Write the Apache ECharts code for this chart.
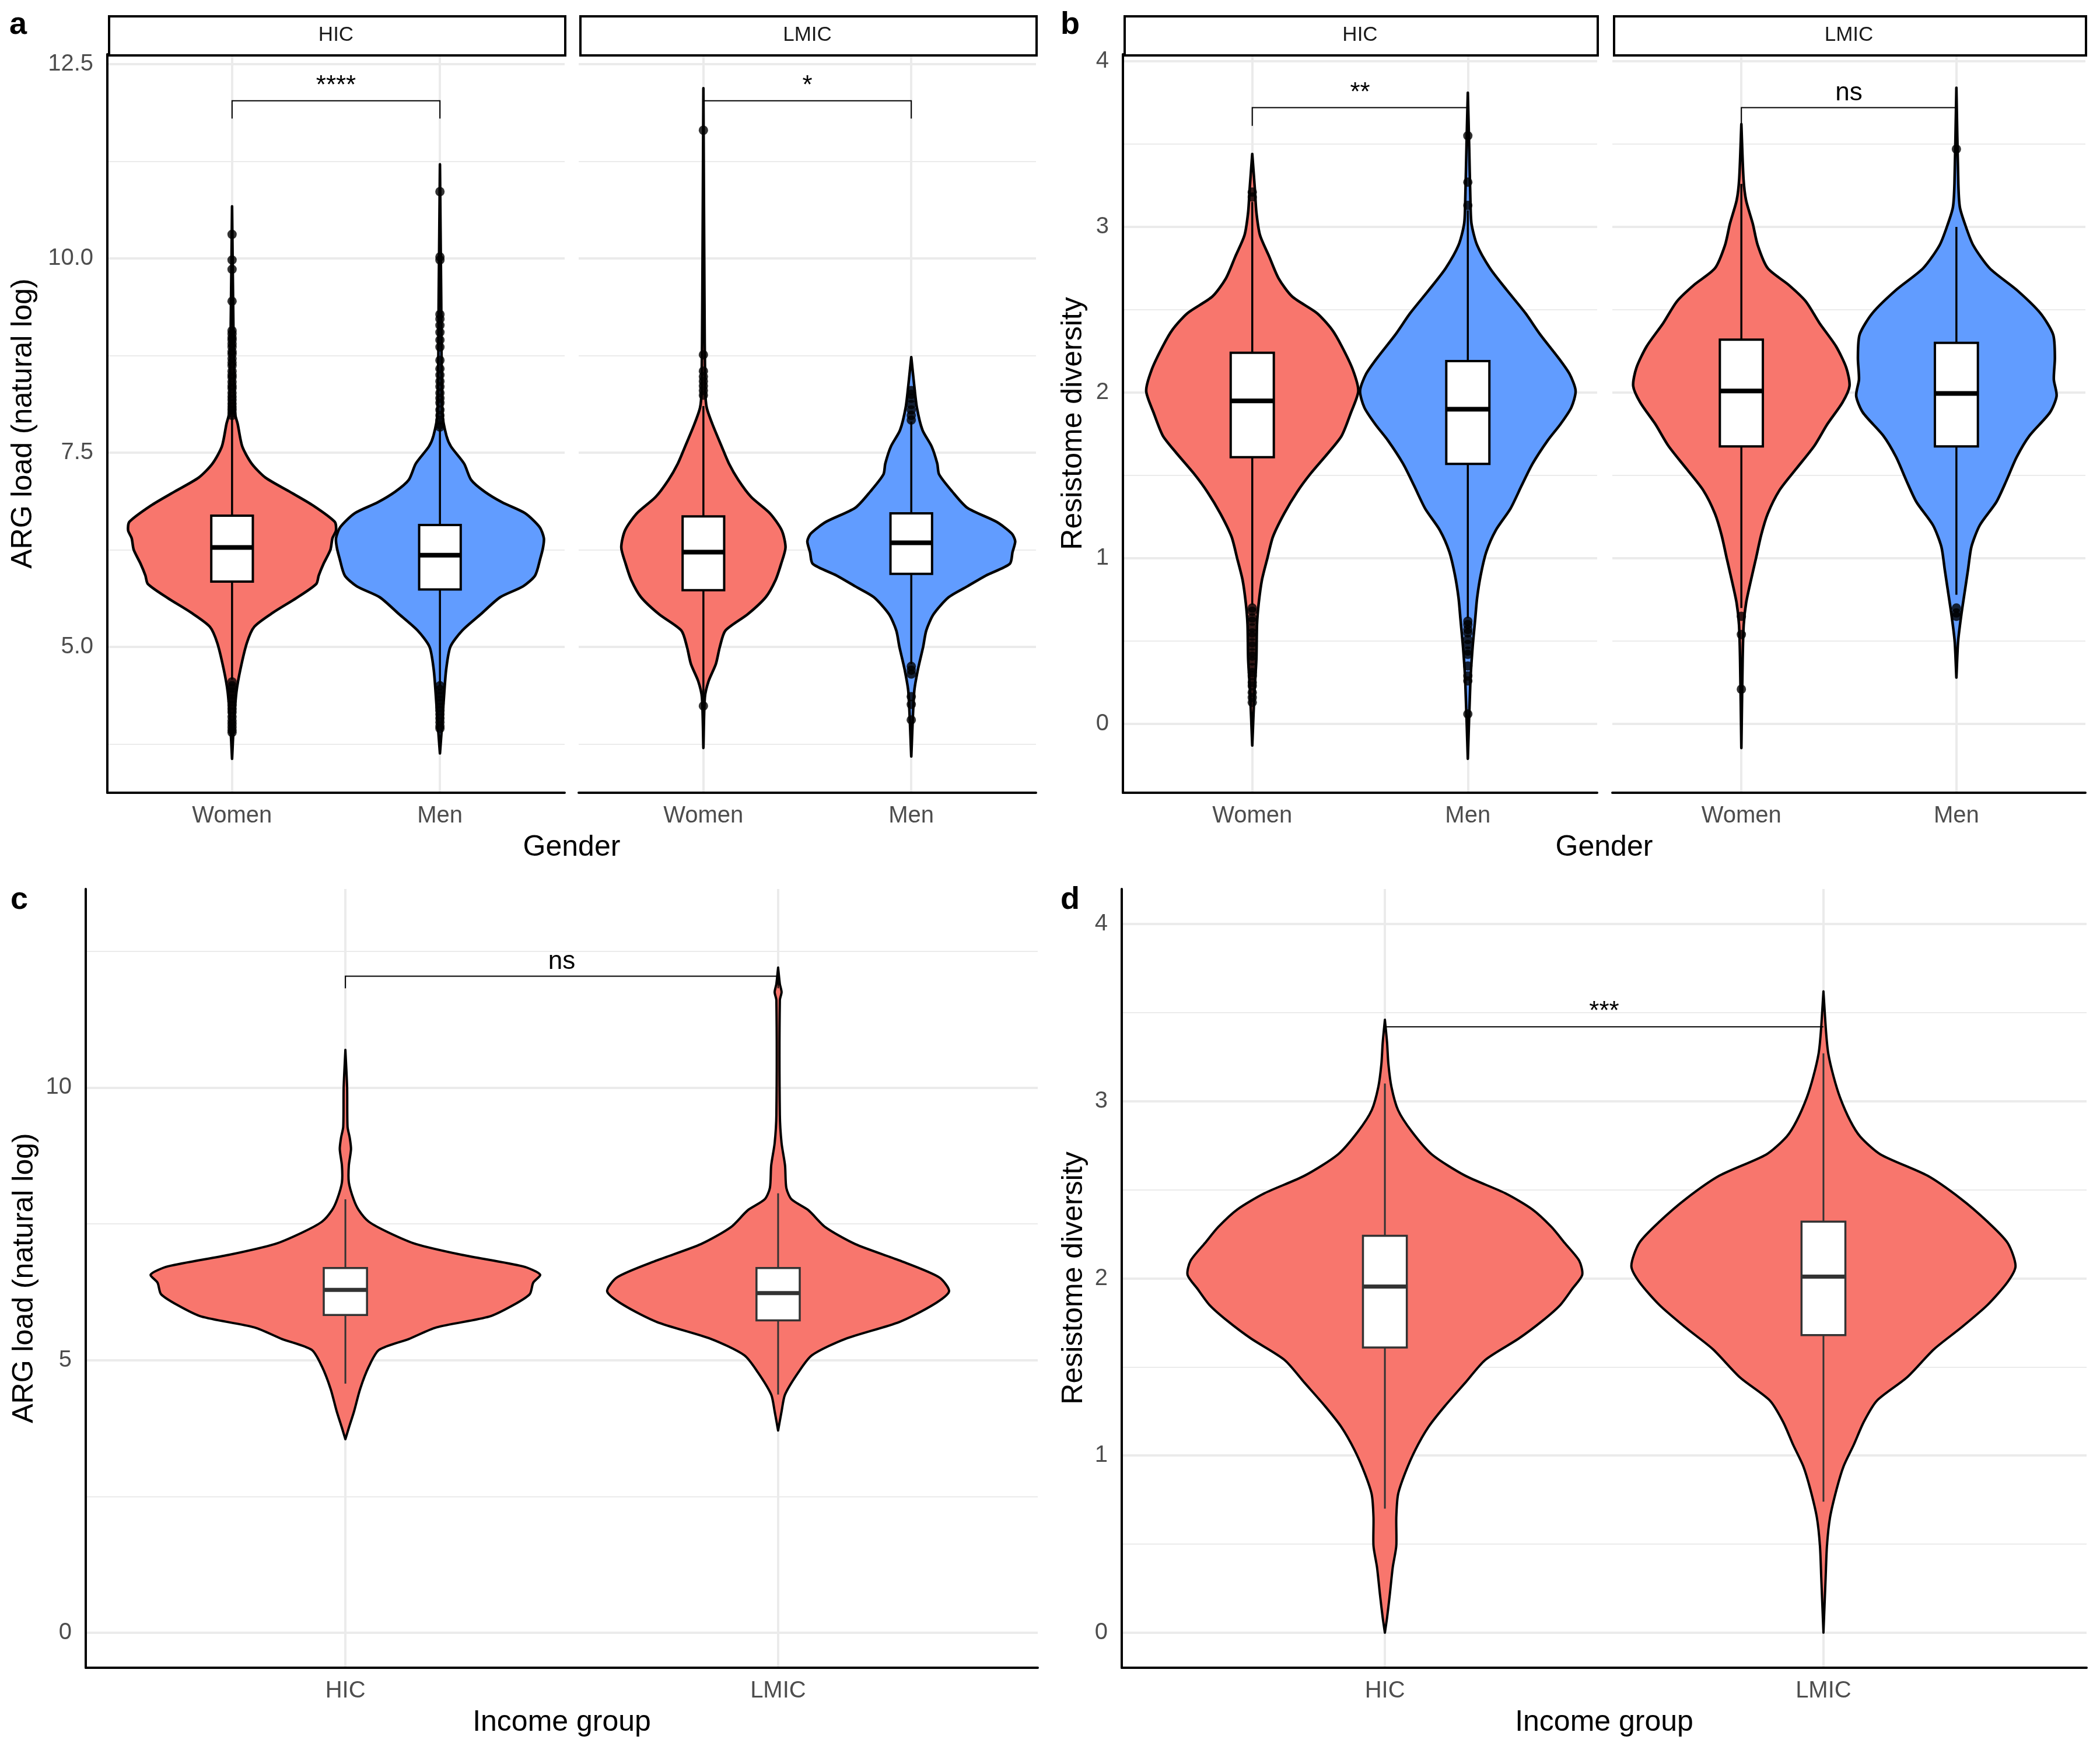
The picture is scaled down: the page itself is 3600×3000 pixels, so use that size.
<!DOCTYPE html>
<html><head><meta charset="utf-8">
<script src="https://cdn.jsdelivr.net/npm/echarts@6/dist/echarts.min.js"></script>
<style>html,body{margin:0;padding:0;background:#fff}#chart{width:3600px;height:3000px}</style>
</head><body><div id="chart"></div>
<script>
// ---------------- categories & ticks ----------------
const genderCategories = ['Women', 'Men'];
const incomeCategories = ['HIC', 'LMIC'];
const facetLabels = ['HIC', 'LMIC'];
const panelLetters = ['a', 'b', 'c', 'd'];
const argTitle = 'ARG load (natural log)';
const divTitle = 'Resistome diversity';
const genderTitle = 'Gender';
const incomeTitle = 'Income group';

const argGenderMajor = [5, 7.5, 10, 12.5];
const argGenderMinor = [3.75, 6.25, 8.75, 11.25];
const divMajor = [0, 1, 2, 3, 4];
const divMinor = [0.5, 1.5, 2.5, 3.5];
const argIncomeMajor = [0, 5, 10];
const argIncomeMinor = [2.5, 7.5, 12.5];

// ---------------- violin profiles [value, half-width] ----------------
const aHicWomenViolin = [[3.56,0],[3.99,0.008],[4.42,0.021],[4.71,0.04],[5.05,0.071],[5.26,0.107],[5.44,0.196],[5.63,0.31],[5.81,0.405],[5.92,0.417],[6.07,0.44],[6.25,0.473],[6.40,0.483],[6.5,0.5],[6.61,0.494],[6.82,0.39],[7.0,0.276],[7.18,0.16],[7.36,0.094],[7.58,0.049],[7.87,0.027],[8.01,0.014],[9.0,0.007],[10.67,0]];
const aHicMenViolin = [[3.63,0],[3.99,0.01],[4.42,0.021],[4.71,0.03],[5.0,0.05],[5.21,0.107],[5.42,0.196],[5.64,0.29],[5.78,0.40],[5.92,0.458],[6.14,0.483],[6.28,0.496],[6.40,0.50],[6.54,0.48],[6.72,0.41],[6.86,0.30],[7.0,0.214],[7.15,0.15],[7.36,0.116],[7.58,0.053],[7.72,0.031],[8.0,0.012],[9.5,0.006],[11.21,0]];
const aLmicWomenViolin = [[3.70,0],[4.35,0.007],[4.56,0.025],[4.78,0.06],[5.0,0.079],[5.21,0.106],[5.42,0.213],[5.64,0.30],[5.86,0.347],[6.07,0.374],[6.28,0.395],[6.50,0.377],[6.72,0.32],[6.93,0.23],[7.15,0.168],[7.36,0.123],[7.58,0.088],[7.87,0.043],[8.08,0.016],[8.3,0.009],[9.5,0.005],[12.19,0]];
const aLmicMenViolin = [[3.59,0],[4.42,0.014],[4.71,0.032],[5.0,0.057],[5.21,0.072],[5.42,0.107],[5.64,0.18],[5.78,0.27],[5.92,0.36],[6.07,0.474],[6.22,0.487],[6.36,0.50],[6.46,0.483],[6.61,0.41],[6.79,0.27],[7.0,0.197],[7.22,0.134],[7.36,0.125],[7.58,0.098],[7.79,0.054],[8.08,0.027],[8.37,0.014],[8.73,0]];
const bHicWomenViolin = [[-0.13,0],[0.19,0.01],[0.39,0.019],[0.60,0.022],[0.73,0.03],[0.87,0.045],[1.0,0.07],[1.13,0.096],[1.27,0.148],[1.40,0.208],[1.51,0.27],[1.64,0.355],[1.74,0.415],[1.88,0.458],[2.01,0.492],[2.14,0.466],[2.28,0.415],[2.38,0.37],[2.48,0.30],[2.58,0.185],[2.69,0.122],[2.82,0.079],[2.95,0.036],[3.09,0.019],[3.23,0.012],[3.44,0]];
const bHicMenViolin = [[-0.21,0],[0.26,0.012],[0.46,0.022],[0.63,0.034],[0.76,0.043],[0.90,0.06],[1.04,0.086],[1.17,0.13],[1.30,0.198],[1.44,0.25],[1.57,0.30],[1.71,0.37],[1.81,0.43],[1.91,0.48],[2.01,0.50],[2.11,0.473],[2.21,0.42],[2.35,0.336],[2.48,0.267],[2.62,0.18],[2.75,0.103],[2.89,0.043],[3.02,0.017],[3.16,0.012],[3.5,0.006],[3.81,0]];
const bLmicWomenViolin = [[-0.145,0],[0.39,0.006],[0.60,0.011],[0.73,0.022],[0.87,0.045],[1.0,0.068],[1.14,0.092],[1.27,0.123],[1.41,0.177],[1.54,0.255],[1.68,0.34],[1.81,0.40],[1.94,0.47],[2.04,0.503],[2.15,0.488],[2.28,0.44],[2.42,0.363],[2.55,0.30],[2.65,0.22],[2.75,0.123],[2.89,0.076],[3.02,0.053],[3.16,0.022],[3.29,0.01],[3.62,0]];
const bLmicMenViolin = [[0.28,0],[0.50,0.008],[0.66,0.023],[0.80,0.039],[0.93,0.054],[1.07,0.07],[1.20,0.109],[1.34,0.186],[1.47,0.233],[1.61,0.28],[1.74,0.34],[1.88,0.435],[1.98,0.466],[2.08,0.453],[2.21,0.458],[2.35,0.45],[2.48,0.39],[2.62,0.28],[2.75,0.155],[2.89,0.078],[3.02,0.039],[3.12,0.016],[3.26,0.009],[3.84,0]];
const cHicViolin = [[3.55,0],[3.76,0.008],[4.06,0.02],[4.47,0.034],[4.88,0.054],[5.19,0.078],[5.39,0.147],[5.60,0.21],[5.80,0.333],[6.01,0.388],[6.21,0.426],[6.42,0.434],[6.57,0.45],[6.72,0.41],[6.93,0.27],[7.13,0.163],[7.34,0.10],[7.54,0.054],[7.75,0.031],[7.95,0.019],[8.26,0.008],[8.57,0.008],[8.87,0.013],[9.08,0.01],[9.28,0.005],[10.0,0.004],[10.69,0]];
const cLmicViolin = [[3.71,0],[4.06,0.008],[4.37,0.016],[4.78,0.047],[5.09,0.078],[5.39,0.155],[5.70,0.28],[6.01,0.357],[6.26,0.395],[6.52,0.372],[6.83,0.28],[7.13,0.178],[7.44,0.109],[7.75,0.07],[7.95,0.031],[8.16,0.019],[8.57,0.016],[8.98,0.008],[9.5,0.004],[11.6,0.004],[11.75,0.008],[11.9,0.004],[12.20,0]];
const dHicViolin = [[0,0],[0.085,0.005],[0.21,0.011],[0.37,0.018],[0.49,0.026],[0.65,0.026],[0.78,0.03],[0.90,0.046],[1.03,0.069],[1.16,0.099],[1.28,0.137],[1.41,0.183],[1.54,0.229],[1.66,0.305],[1.76,0.359],[1.85,0.40],[1.94,0.427],[2.02,0.45],[2.10,0.443],[2.20,0.41],[2.29,0.38],[2.39,0.336],[2.48,0.275],[2.58,0.183],[2.70,0.107],[2.83,0.061],[2.95,0.03],[3.08,0.015],[3.21,0.008],[3.33,0.005],[3.46,0]];
const dLmicViolin = [[0,0],[0.31,0.005],[0.49,0.008],[0.65,0.015],[0.81,0.03],[0.94,0.046],[1.06,0.069],[1.19,0.092],[1.31,0.122],[1.44,0.19],[1.60,0.252],[1.72,0.313],[1.85,0.374],[1.98,0.42],[2.07,0.438],[2.20,0.42],[2.32,0.374],[2.45,0.313],[2.58,0.237],[2.70,0.13],[2.80,0.084],[2.89,0.061],[3.02,0.038],[3.14,0.023],[3.27,0.011],[3.39,0.006],[3.62,0]];

// ---------------- box stats [lowWhisker, Q1, median, Q3, highWhisker] ----------------
const aHicWomenBox = [4.58, 5.84, 6.28, 6.69, 7.95];
const aHicMenBox = [4.5, 5.74, 6.18, 6.57, 7.8];
const aLmicWomenBox = [4.3, 5.73, 6.22, 6.68, 8.1];
const aLmicMenBox = [4.78, 5.94, 6.34, 6.72, 7.9];
const bHicWomenBox = [0.72, 1.61, 1.95, 2.24, 3.15];
const bHicMenBox = [0.64, 1.57, 1.90, 2.19, 3.1];
const bLmicWomenBox = [0.7, 1.675, 2.01, 2.32, 3.26];
const bLmicMenBox = [0.78, 1.675, 1.995, 2.30, 3.0];
const cHicBox = [4.57, 5.83, 6.29, 6.69, 7.95];
const cLmicBox = [4.37, 5.73, 6.23, 6.69, 8.06];
const dHicBox = [0.70, 1.61, 1.954, 2.24, 3.10];
const dLmicBox = [0.74, 1.68, 2.01, 2.32, 3.27];

// ---------------- outliers ----------------
const aHicWomenOut = [10.31, 9.98, 9.86, 9.45, 9.07, 9.03, 8.98, 8.95, 8.9, 8.86, 8.8, 8.77, 8.71, 8.66, 8.62, 8.55, 8.5, 8.47, 8.41, 8.36, 8.33, 8.27, 8.22, 8.18, 8.13, 8.09, 8.05, 8.01, 7.98,
  4.55, 4.5, 4.47, 4.42, 4.38, 4.33, 4.3, 4.25, 4.2, 4.16, 4.1, 4.05, 4.01, 3.97, 3.93, 3.9];
const aHicMenOut = [10.86, 10.02, 9.98, 9.28, 9.22, 9.14, 9.05, 8.95, 8.86, 8.69, 8.58, 8.5, 8.42, 8.35, 8.27, 8.2, 8.14, 8.05, 7.98, 7.92, 7.86, 7.83,
  4.5, 4.45, 4.4, 4.36, 4.31, 4.27, 4.22, 4.18, 4.13, 4.08, 4.03, 3.98, 3.95];
const aLmicWomenOut = [11.65, 8.76, 8.55, 8.48, 8.42, 8.36, 8.3, 8.24, 4.24];
const aLmicMenOut = [8.3, 8.25, 8.2, 8.12, 8.05, 7.98, 7.92, 4.75, 4.7, 4.65, 4.36, 4.26, 4.06];
const bHicWomenOut = [3.21, 3.18, 0.70, 0.68, 0.64, 0.62, 0.58, 0.55, 0.53, 0.49, 0.47, 0.43, 0.41, 0.38, 0.34, 0.31, 0.29, 0.25, 0.23, 0.19, 0.16, 0.13];
const bHicMenOut = [3.55, 3.27, 3.13, 0.62, 0.6, 0.57, 0.55, 0.51, 0.48, 0.44, 0.42, 0.35, 0.29, 0.26, 0.06];
const bLmicWomenOut = [0.65, 0.54, 0.21];
const bLmicMenOut = [3.47, 0.70, 0.67, 0.65];

// ---------------- significance brackets [x1, x2, lineY, tipY, label] ----------------
const aHicSig = [1, 2, 12.03, 11.80, '****'];
const aLmicSig = [1, 2, 12.03, 11.80, '*'];
const bHicSig = [1, 2, 3.72, 3.61, '**'];
const bLmicSig = [1, 2, 3.72, 3.61, 'ns'];
const cSig = [1, 2, 12.04, 11.82, 'ns'];
const dSig = [1, 2, 3.42, 3.42, '***'];

// ---------------- layout / style ----------------
const RED = '#F8766D', BLUE = '#619CFF';
const FONT = 'Liberation Sans, Arial, Helvetica, sans-serif';
const GRIDC = '#EBEBEB';

const panels = [
  { left: 184, top: 93, width: 784, height: 1266, yMin: 3.123, yMax: 12.628, major: argGenderMajor, minor: argGenderMinor, showY: true, cats: genderCategories, fmt: v => v.toFixed(1) },
  { left: 992, top: 93, width: 784, height: 1266, yMin: 3.123, yMax: 12.628, major: argGenderMajor, minor: argGenderMinor, showY: false, cats: genderCategories, fmt: v => v.toFixed(1) },
  { left: 1925, top: 93, width: 813, height: 1266, yMin: -0.415, yMax: 4.042, major: divMajor, minor: divMinor, showY: true, cats: genderCategories, fmt: v => String(v) },
  { left: 2764, top: 93, width: 811, height: 1266, yMin: -0.415, yMax: 4.042, major: divMajor, minor: divMinor, showY: false, cats: genderCategories, fmt: v => String(v) },
  { left: 147, top: 1524, width: 1632, height: 1335, yMin: -0.64, yMax: 13.64, major: argIncomeMajor, minor: argIncomeMinor, showY: true, cats: incomeCategories, fmt: v => String(v) },
  { left: 1923, top: 1524, width: 1654, height: 1335, yMin: -0.198, yMax: 4.198, major: divMajor, minor: divMinor, showY: true, cats: incomeCategories, fmt: v => String(v) }
];

const grids = [], xAxes = [], yAxes = [];
panels.forEach((p, i) => {
  grids.push({ left: p.left, top: p.top, width: p.width, height: p.height, containLabel: false });
  xAxes.push({
    type: 'value', gridIndex: i, min: 0.4, max: 2.6, position: 'bottom',
    axisLine: { show: true, onZero: false, lineStyle: { color: '#000', width: 4 } },
    axisTick: { show: false, customValues: [1, 2] },
    axisLabel: { show: true, customValues: [1, 2], formatter: v => p.cats[Math.round(v) - 1], color: '#4D4D4D', fontSize: 40, fontFamily: FONT, margin: 20, lineHeight: 40 },
    splitLine: { show: true, lineStyle: { color: GRIDC, width: 4 } }
  });
  yAxes.push({
    type: 'value', gridIndex: i, min: p.yMin, max: p.yMax, position: 'left',
    axisLine: { show: p.showY, onZero: false, lineStyle: { color: '#000', width: 4 } },
    axisTick: { show: false, customValues: p.major },
    axisLabel: { show: p.showY, customValues: p.major, formatter: p.fmt, color: '#4D4D4D', fontSize: 40, fontFamily: FONT, margin: 24 },
    splitLine: { show: true, lineStyle: { color: GRIDC, width: 4 } }
  });
  yAxes.push({
    type: 'value', gridIndex: i, min: p.yMin, max: p.yMax, position: 'left',
    axisLine: { show: false, onZero: false }, axisLabel: { show: false },
    axisTick: { show: false, customValues: p.minor },
    splitLine: { show: true, lineStyle: { color: GRIDC, width: 2 } }
  });
});

const series = [];
function violin(gi, xc, profile, color, lw) {
  const mid = profile[Math.floor(profile.length / 2)][0];
  series.push({
    type: 'custom', xAxisIndex: gi, yAxisIndex: 2 * gi, z: 2, silent: true,
    data: [[xc, mid]],
    renderItem: (params, api) => {
      const right = profile.map(r => api.coord([xc + r[1], r[0]]));
      const left = profile.slice().reverse().map(r => api.coord([xc - r[1], r[0]]));
      return { type: 'polygon', shape: { points: right.concat(left), smooth: 0.25 },
        style: { fill: color, stroke: '#000', lineWidth: lw, lineJoin: 'round' } };
    }
  });
}
function box(gi, xc, stats, halfW, color, boxLw, medLw, whiskLw) {
  series.push({
    type: 'custom', xAxisIndex: gi, yAxisIndex: 2 * gi, z: 3, silent: true,
    data: [[xc].concat(stats)],
    encode: { x: 0, y: [1, 2, 3, 4, 5] },
    renderItem: (params, api) => {
      const x = api.value(0);
      const lo = api.coord([x, api.value(1)]), q1 = api.coord([x - halfW, api.value(2)]);
      const med = api.value(3), q3 = api.coord([x + halfW, api.value(4)]), hi = api.coord([x, api.value(5)]);
      const mL = api.coord([x - halfW, med]), mR = api.coord([x + halfW, med]);
      const c = api.coord([x, api.value(2)]), c3 = api.coord([x, api.value(4)]);
      return { type: 'group', children: [
        { type: 'line', shape: { x1: lo[0], y1: lo[1], x2: c[0], y2: c[1] }, style: { stroke: color, lineWidth: whiskLw } },
        { type: 'line', shape: { x1: hi[0], y1: hi[1], x2: c3[0], y2: c3[1] }, style: { stroke: color, lineWidth: whiskLw } },
        { type: 'rect', shape: { x: q1[0], y: q3[1], width: q3[0] - q1[0], height: q1[1] - q3[1] }, style: { fill: '#fff', stroke: color, lineWidth: boxLw } },
        { type: 'line', shape: { x1: mL[0], y1: mL[1], x2: mR[0], y2: mR[1] }, style: { stroke: color, lineWidth: medLw } }
      ] };
    }
  });
}
function outliers(gi, xc, vals) {
  series.push({
    type: 'scatter', xAxisIndex: gi, yAxisIndex: 2 * gi, z: 4, silent: true,
    symbol: 'circle', symbolSize: 16, itemStyle: { color: '#000' },
    data: vals.map(v => [xc, v])
  });
}
function bracket(gi, sig) {
  series.push({
    type: 'custom', xAxisIndex: gi, yAxisIndex: 2 * gi, z: 5, silent: true,
    data: [sig],
    renderItem: (params, api) => {
      const x1 = api.value(0), x2 = api.value(1), y = api.value(2), tip = api.value(3);
      const a = api.coord([x1, tip]), b = api.coord([x1, y]), c = api.coord([x2, y]), d = api.coord([x2, tip]);
      return { type: 'group', children: [
        { type: 'polyline', shape: { points: [a, b, c, d] }, style: { stroke: '#000', lineWidth: 2, fill: null } },
        { type: 'text', x: (b[0] + c[0]) / 2, y: b[1] - 25,
          style: { text: sig[4], fontSize: 44, fontFamily: FONT, fill: '#000', align: 'center', verticalAlign: 'middle' } }
      ] };
    }
  });
}

// panel a
violin(0, 1, aHicWomenViolin, RED, 4.5); violin(0, 2, aHicMenViolin, BLUE, 4.5);
violin(1, 1, aLmicWomenViolin, RED, 4.5); violin(1, 2, aLmicMenViolin, BLUE, 4.5);
box(0, 1, aHicWomenBox, 0.1, '#000', 4, 8, 3.5); box(0, 2, aHicMenBox, 0.1, '#000', 4, 8, 3.5);
box(1, 1, aLmicWomenBox, 0.1, '#000', 4, 8, 3.5); box(1, 2, aLmicMenBox, 0.1, '#000', 4, 8, 3.5);
outliers(0, 1, aHicWomenOut); outliers(0, 2, aHicMenOut);
outliers(1, 1, aLmicWomenOut); outliers(1, 2, aLmicMenOut);
bracket(0, aHicSig); bracket(1, aLmicSig);
// panel b
violin(2, 1, bHicWomenViolin, RED, 4.5); violin(2, 2, bHicMenViolin, BLUE, 4.5);
violin(3, 1, bLmicWomenViolin, RED, 4.5); violin(3, 2, bLmicMenViolin, BLUE, 4.5);
box(2, 1, bHicWomenBox, 0.1, '#000', 4, 8, 3.5); box(2, 2, bHicMenBox, 0.1, '#000', 4, 8, 3.5);
box(3, 1, bLmicWomenBox, 0.1, '#000', 4, 8, 3.5); box(3, 2, bLmicMenBox, 0.1, '#000', 4, 8, 3.5);
outliers(2, 1, bHicWomenOut); outliers(2, 2, bHicMenOut);
outliers(3, 1, bLmicWomenOut); outliers(3, 2, bLmicMenOut);
bracket(2, bHicSig); bracket(3, bLmicSig);
// panel c
violin(4, 1, cHicViolin, RED, 4); violin(4, 2, cLmicViolin, RED, 4);
box(4, 1, cHicBox, 0.05, '#333333', 3.5, 7, 3); box(4, 2, cLmicBox, 0.05, '#333333', 3.5, 7, 3);
bracket(4, cSig);
// panel d
violin(5, 1, dHicViolin, RED, 4); violin(5, 2, dLmicViolin, RED, 4);
box(5, 1, dHicBox, 0.05, '#333333', 3.5, 7, 3); box(5, 2, dLmicBox, 0.05, '#333333', 3.5, 7, 3);
bracket(5, dSig);

// ---------------- graphics: strips, titles, letters ----------------
const graphic = [];
[0, 1, 2, 3].forEach(i => {
  const p = panels[i];
  graphic.push({ type: 'rect', left: p.left + 1, top: 26, shape: { width: p.width - 2, height: 67 },
    style: { fill: '#fff', stroke: '#000', lineWidth: 4 }, z: 10 });
  graphic.push({ type: 'text', x: p.left + p.width / 2, y: 60, z: 11,
    style: { text: facetLabels[i % 2], fontSize: 35, fontFamily: FONT, fill: '#1A1A1A', align: 'center', verticalAlign: 'middle' } });
});
function txt(x, y, s, size, opts) {
  graphic.push(Object.assign({ type: 'text', x: x, y: y, z: 11,
    style: Object.assign({ text: s, fontSize: size, fontFamily: FONT, fill: '#000', align: 'center', verticalAlign: 'middle' }, (opts && opts.style) || {}) },
    (opts && opts.el) || {}));
}
const rot = { el: { rotation: Math.PI / 2 } };
txt(40, 726, argTitle, 50, rot);
txt(1840, 726, divTitle, 50, rot);
txt(42, 2191, argTitle, 50, rot);
txt(1841, 2191, divTitle, 50, rot);
txt(980, 1453, genderTitle, 50);
txt(2750, 1453, genderTitle, 50);
txt(963, 2953, incomeTitle, 50);
txt(2750, 2953, incomeTitle, 50);
const bold = { style: { fontWeight: 'bold', align: 'left' } };
txt(16, 43, panelLetters[0], 54, bold);
txt(1818, 43, panelLetters[1], 54, bold);
txt(18, 1543, panelLetters[2], 54, bold);
txt(1818, 1543, panelLetters[3], 54, bold);

const chart = echarts.init(document.getElementById('chart'), null, { renderer: 'canvas' });
chart.setOption({
  backgroundColor: '#fff',
  animation: false,
  textStyle: { fontFamily: FONT },
  grid: grids, xAxis: xAxes, yAxis: yAxes,
  series: series,
  graphic: graphic
});
</script></body></html>
